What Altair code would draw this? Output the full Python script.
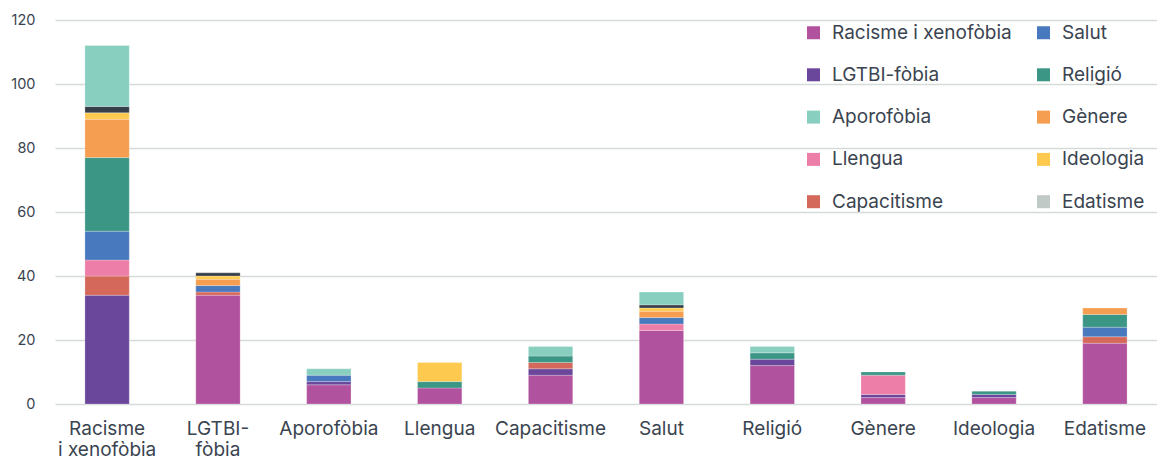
import altair as alt
import pandas as pd

# Categories on the x axis
categories = ["Racisme i xenofòbia", "LGTBI-fòbia", "Aporofòbia", "Llengua", "Capacitisme",
              "Salut", "Religió", "Gènere", "Ideologia", "Edatisme"]

# Series values, one entry per category (stacked bottom to top in this order)
racisme = [0, 34, 6, 5, 9, 23, 12, 2, 2, 19]
lgtbi = [34, 0, 1, 0, 2, 0, 2, 1, 1, 0]
capacitisme = [6, 1, 0, 0, 2, 0, 0, 0, 0, 2]
llengua = [5, 0, 0, 0, 0, 2, 0, 6, 0, 0]
salut = [9, 2, 2, 0, 0, 2, 0, 0, 0, 3]
religio = [23, 0, 0, 2, 2, 0, 2, 1, 1, 4]
genere = [12, 2, 0, 0, 0, 2, 0, 0, 0, 2]
ideologia = [2, 1, 0, 6, 0, 1, 0, 0, 0, 0]
altres = [2, 1, 0, 0, 0, 1, 0, 0, 0, 0]
aporofobia = [19, 0, 2, 0, 3, 4, 2, 0, 0, 0]
edatisme = [0, 0, 0, 0, 0, 0, 0, 0, 0, 0]

stack = [
    ("Racisme i xenofòbia", racisme),
    ("LGTBI-fòbia", lgtbi),
    ("Capacitisme", capacitisme),
    ("Llengua", llengua),
    ("Salut", salut),
    ("Religió", religio),
    ("Gènere", genere),
    ("Ideologia", ideologia),
    ("Altres", altres),
    ("Aporofòbia", aporofobia),
    ("Edatisme", edatisme),
]

# Legend order (two columns, filled column by column) and colours
legend_order = ["Racisme i xenofòbia", "LGTBI-fòbia", "Aporofòbia", "Llengua", "Capacitisme",
                "Salut", "Religió", "Gènere", "Ideologia", "Edatisme"]
domain = legend_order + ["Altres"]
colors = ["#b1529e", "#6a479b", "#88cfbf", "#ec7ea8", "#d4695b",
          "#4878bd", "#3c9686", "#f59d50", "#fdca4f", "#c1c9c7", "#37404a"]

rows = []
for k, (name, vals) in enumerate(stack):
    for cat, v in zip(categories, vals):
        if v > 0:
            rows.append({"categoria": cat, "serie": name, "valor": v, "ordre": k})
df = pd.DataFrame(rows)

text_color = "#3a4450"
font = "Inter"

label_expr = ("datum.value == 'Racisme i xenofòbia' ? ['Racisme', 'i xenofòbia'] : "
              "datum.value == 'LGTBI-fòbia' ? ['LGTBI-', 'fòbia'] : datum.value")

chart = alt.Chart(df).mark_bar(stroke="white", strokeWidth=0.4, strokeOpacity=0.6).encode(
    x=alt.X("categoria:N", sort=categories, title=None,
            scale=alt.Scale(paddingInner=0.6, paddingOuter=0.27),
            axis=alt.Axis(labelAngle=0, domain=False, ticks=False, labelPadding=15,
                          labelFontSize=19, labelColor=text_color, labelFont=font,
                          labelLineHeight=21, labelExpr=label_expr, labelLimit=200)),
    y=alt.Y("sum(valor):Q", title=None,
            scale=alt.Scale(domain=[0, 120]),
            axis=alt.Axis(values=[0, 20, 40, 60, 80, 100, 120], domain=False, ticks=False,
                          labelPadding=20, labelFontSize=14.5, labelColor=text_color,
                          labelFont=font, gridColor="#d5dbd9", gridWidth=1.5)),
    color=alt.Color("serie:N", title=None,
                    scale=alt.Scale(domain=domain, range=colors),
                    legend=alt.Legend(orient="none", legendX=749, legendY=3, columns=2,
                                      values=legend_order, symbolType="square",
                                      symbolSize=169, symbolStrokeWidth=0,
                                      labelFontSize=19, labelFont=font,
                                      labelColor=text_color, labelOffset=9,
                                      rowPadding=22.3, columnPadding=22, labelLimit=300)),
    order=alt.Order("ordre:Q", sort="ascending"),
).properties(
    width=1102, height=384,
    autosize=alt.AutoSizeParams(type="none"),
    padding={"left": 55, "top": 20, "right": 0, "bottom": 55},
).configure_view(stroke=None)

chart.save("out.html", embed_options={"renderer": "svg", "actions": False})
